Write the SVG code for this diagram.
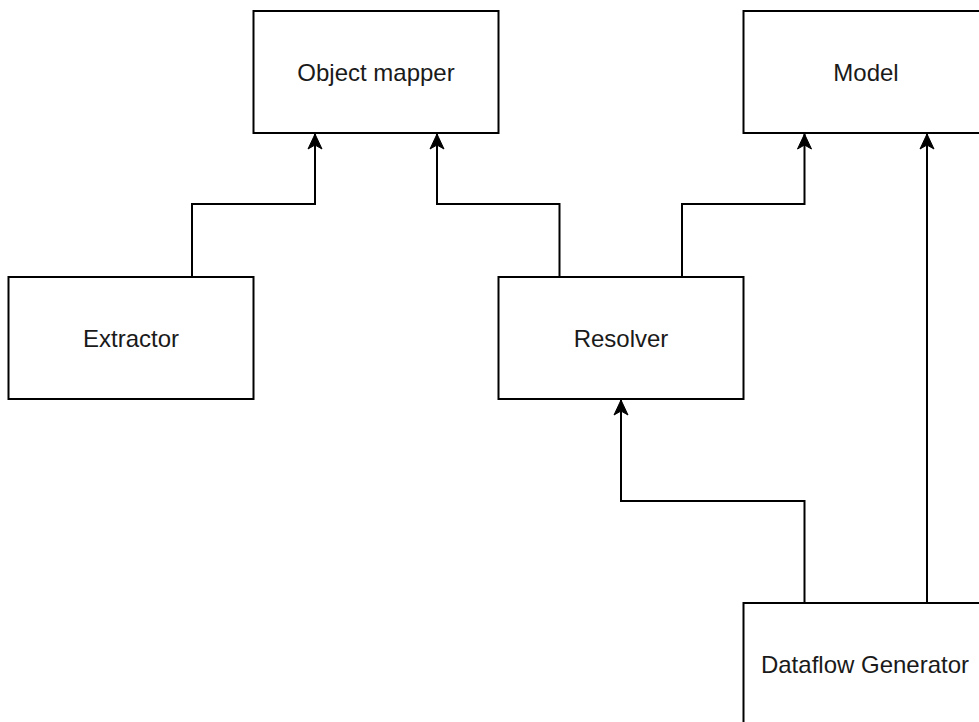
<svg xmlns="http://www.w3.org/2000/svg" width="979" height="722" viewBox="0 0 979 722">
  <style>
    .box { fill: #ffffff; stroke: #000000; stroke-width: 2; }
    .label { font-family: "Liberation Sans", Arial, sans-serif; font-size: 24px; fill: #1a1a1a; text-anchor: middle; }
    .edge { fill: none; stroke: #000000; stroke-width: 2; marker-end: url(#arrow); }
  </style>
  <defs>
    <marker id="arrow" viewBox="-16 -8 17 16" refX="0" refY="0" markerWidth="17" markerHeight="16" markerUnits="userSpaceOnUse" orient="auto" overflow="visible">
      <path d="M0,0 L-15,-7 L-11,0 L-15,7 Z" fill="#000000" stroke="#000000" stroke-width="1" stroke-linejoin="miter"/>
    </marker>
  </defs>
  <rect width="979" height="722" fill="#ffffff"/>

  <g id="connectors">
    <!-- Extractor to Object mapper -->
    <path class="edge" d="M192,277 V204 H315 V134"/>
    <!-- Resolver to Object mapper -->
    <path class="edge" d="M559.5,277 V204 H437 V134"/>
    <!-- Resolver to Model -->
    <path class="edge" d="M682,277 V204 H804.5 V134"/>
    <!-- Dataflow Generator to Resolver -->
    <path class="edge" d="M804.5,603 V501 H621 V400"/>
    <!-- Dataflow Generator to Model -->
    <path class="edge" d="M927,603 V134"/>
  </g>

  <g id="object-mapper">
    <rect class="box" x="253.5" y="11" width="245" height="122"/>
    <text class="label" x="376" y="80.5">Object mapper</text>
  </g>
  <g id="model">
    <rect class="box" x="743.5" y="11" width="245" height="122"/>
    <text class="label" x="866" y="80.5">Model</text>
  </g>
  <g id="extractor">
    <rect class="box" x="8.5" y="277" width="245" height="122"/>
    <text class="label" x="131" y="346.5">Extractor</text>
  </g>
  <g id="resolver">
    <rect class="box" x="498.5" y="277" width="245" height="122"/>
    <text class="label" x="621" y="346.5">Resolver</text>
  </g>
  <g id="dataflow-generator">
    <rect class="box" x="743.5" y="603" width="245" height="122"/>
    <text class="label" x="865" y="672.5">Dataflow Generator</text>
  </g>
</svg>
